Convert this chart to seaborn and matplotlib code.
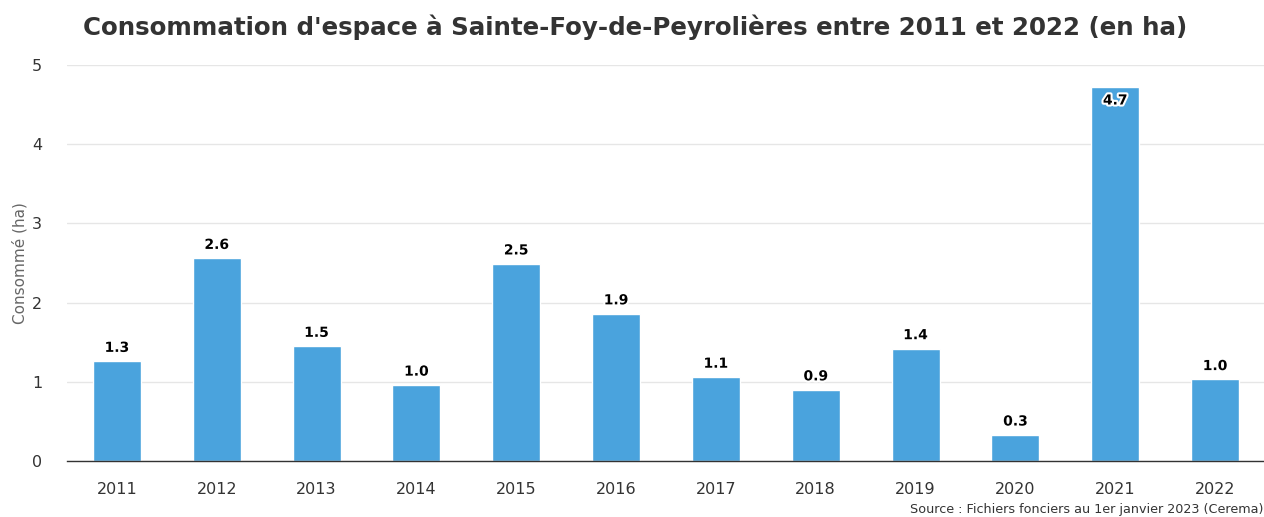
import pandas as pd
import seaborn as sns
import matplotlib.pyplot as plt
import matplotlib.patheffects as pe

# Data
years = ['2011', '2012', '2013', '2014', '2015', '2016',
         '2017', '2018', '2019', '2020', '2021', '2022']
values = [1.26, 2.56, 1.45, 0.96, 2.49, 1.86, 1.06, 0.90, 1.42, 0.33, 4.72, 1.03]
labels = ['1.3', '2.6', '1.5', '1.0', '2.5', '1.9', '1.1', '0.9', '1.4', '0.3', '4.7', '1.0']

df = pd.DataFrame({'annee': years, 'conso': values})

sns.set_style('white')
plt.rcParams['font.family'] = ['DejaVu Sans']

fig = plt.figure(figsize=(12.64, 5.17), dpi=100)
ax = fig.add_axes([67 / 1264, (517 - 461) / 517, (1265 - 67) / 1264, (461 - 65) / 517])

sns.barplot(data=df, x='annee', y='conso', color='#4aa3dd', saturation=1,
            width=0.48, ax=ax, zorder=2)

ax.set_ylim(0, 5)
ax.set_xlim(-0.5, len(years) - 0.5)
ax.set_yticks(range(0, 6))
ax.yaxis.grid(True, color='#e6e6e6', linewidth=1, zorder=0)
ax.set_axisbelow(True)
for s in ['top', 'right', 'left']:
    ax.spines[s].set_visible(False)
ax.spines['bottom'].set_color('#333333')
ax.spines['bottom'].set_linewidth(1)
ax.tick_params(axis='both', length=0, labelsize=11.5, colors='#333333')
ax.tick_params(axis='x', pad=15)
ax.tick_params(axis='y', pad=18)
ax.set_xlabel('')
ax.set_ylabel('Consommé (ha)', color='#666666', fontsize=11, labelpad=3)

stroke = [pe.withStroke(linewidth=3, foreground='white')]
for i, (v, lab) in enumerate(zip(values, labels)):
    if v > 4.5:
        ax.text(i, v - 0.08, lab, ha='center', va='top', fontsize=10,
                fontweight='bold', color='black', path_effects=stroke, zorder=5)
    else:
        ax.text(i, v + 0.08, lab, ha='center', va='bottom', fontsize=10,
                fontweight='bold', color='black', path_effects=stroke, zorder=5)

fig.text(635 / 1264, 1 - 27 / 517, "Consommation d'espace à Sainte-Foy-de-Peyrolières entre 2011 et 2022 (en ha)",
         ha='center', va='center', fontsize=17.65, fontweight='bold', color='#333333')
fig.text(1263 / 1264, 1 - 510 / 517, 'Source : Fichiers fonciers au 1er janvier 2023 (Cerema)',
         ha='right', va='center', fontsize=9.2, color='#333333')

fig.savefig('out.png', dpi=100)
